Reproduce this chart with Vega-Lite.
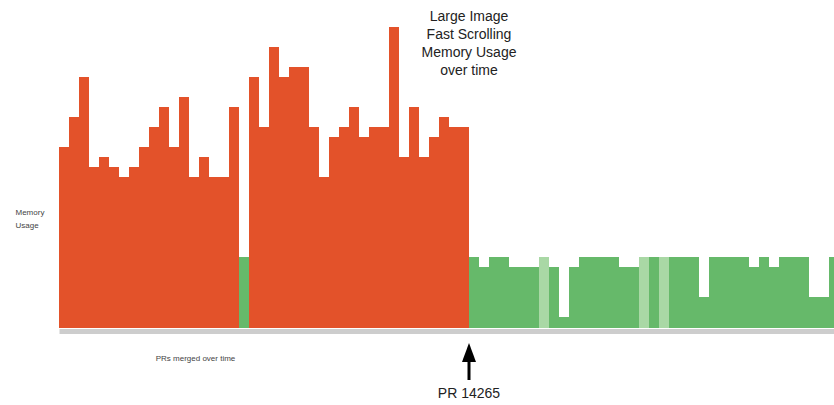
{
  "$schema": "https://vega.github.io/schema/vega-lite/v6.json",
  "width": 775,
  "height": 328,
  "autosize": {"type": "none"},
  "padding": {"left": 59, "top": 0, "right": 0, "bottom": 77},
  "background": "white",
  "config": {"view": {"stroke": null}},
  "layer": [
    {
      "data": {"values": [
        {"pr": 1, "mem": 181, "status": "high"},
        {"pr": 2, "mem": 211, "status": "high"},
        {"pr": 3, "mem": 251, "status": "high"},
        {"pr": 4, "mem": 161, "status": "high"},
        {"pr": 5, "mem": 171, "status": "high"},
        {"pr": 6, "mem": 161, "status": "high"},
        {"pr": 7, "mem": 151, "status": "high"},
        {"pr": 8, "mem": 161, "status": "high"},
        {"pr": 9, "mem": 181, "status": "high"},
        {"pr": 10, "mem": 201, "status": "high"},
        {"pr": 11, "mem": 221, "status": "high"},
        {"pr": 12, "mem": 181, "status": "high"},
        {"pr": 13, "mem": 231, "status": "high"},
        {"pr": 14, "mem": 151, "status": "high"},
        {"pr": 15, "mem": 171, "status": "high"},
        {"pr": 16, "mem": 151, "status": "high"},
        {"pr": 17, "mem": 151, "status": "high"},
        {"pr": 18, "mem": 221, "status": "high"},
        {"pr": 19, "mem": 71, "status": "low"},
        {"pr": 20, "mem": 251, "status": "high"},
        {"pr": 21, "mem": 201, "status": "high"},
        {"pr": 22, "mem": 281, "status": "high"},
        {"pr": 23, "mem": 251, "status": "high"},
        {"pr": 24, "mem": 261, "status": "high"},
        {"pr": 25, "mem": 261, "status": "high"},
        {"pr": 26, "mem": 201, "status": "high"},
        {"pr": 27, "mem": 151, "status": "high"},
        {"pr": 28, "mem": 191, "status": "high"},
        {"pr": 29, "mem": 201, "status": "high"},
        {"pr": 30, "mem": 221, "status": "high"},
        {"pr": 31, "mem": 191, "status": "high"},
        {"pr": 32, "mem": 201, "status": "high"},
        {"pr": 33, "mem": 201, "status": "high"},
        {"pr": 34, "mem": 301, "status": "high"},
        {"pr": 35, "mem": 171, "status": "high"},
        {"pr": 36, "mem": 221, "status": "high"},
        {"pr": 37, "mem": 171, "status": "high"},
        {"pr": 38, "mem": 191, "status": "high"},
        {"pr": 39, "mem": 211, "status": "high"},
        {"pr": 40, "mem": 201, "status": "high"},
        {"pr": 41, "mem": 201, "status": "high"},
        {"pr": 42, "mem": 71, "status": "low"},
        {"pr": 43, "mem": 61, "status": "low"},
        {"pr": 44, "mem": 71, "status": "low"},
        {"pr": 45, "mem": 71, "status": "low"},
        {"pr": 46, "mem": 61, "status": "low"},
        {"pr": 47, "mem": 61, "status": "low"},
        {"pr": 48, "mem": 61, "status": "low"},
        {"pr": 49, "mem": 71, "status": "pending"},
        {"pr": 50, "mem": 61, "status": "low"},
        {"pr": 51, "mem": 11, "status": "low"},
        {"pr": 52, "mem": 61, "status": "low"},
        {"pr": 53, "mem": 71, "status": "low"},
        {"pr": 54, "mem": 71, "status": "low"},
        {"pr": 55, "mem": 71, "status": "low"},
        {"pr": 56, "mem": 71, "status": "low"},
        {"pr": 57, "mem": 61, "status": "low"},
        {"pr": 58, "mem": 61, "status": "low"},
        {"pr": 59, "mem": 71, "status": "pending"},
        {"pr": 60, "mem": 71, "status": "low"},
        {"pr": 61, "mem": 71, "status": "pending"},
        {"pr": 62, "mem": 71, "status": "low"},
        {"pr": 63, "mem": 71, "status": "low"},
        {"pr": 64, "mem": 71, "status": "low"},
        {"pr": 65, "mem": 31, "status": "low"},
        {"pr": 66, "mem": 71, "status": "low"},
        {"pr": 67, "mem": 71, "status": "low"},
        {"pr": 68, "mem": 71, "status": "low"},
        {"pr": 69, "mem": 71, "status": "low"},
        {"pr": 70, "mem": 61, "status": "low"},
        {"pr": 71, "mem": 71, "status": "low"},
        {"pr": 72, "mem": 61, "status": "low"},
        {"pr": 73, "mem": 71, "status": "low"},
        {"pr": 74, "mem": 71, "status": "low"},
        {"pr": 75, "mem": 71, "status": "low"},
        {"pr": 76, "mem": 31, "status": "low"},
        {"pr": 77, "mem": 31, "status": "low"},
        {"pr": 78, "mem": 71, "status": "low"}
      ]},
      "mark": {"type": "bar", "clip": true, "strokeWidth": 0},
      "encoding": {
        "x": {
          "field": "pr",
          "type": "ordinal",
          "scale": {"range": [0, 780], "paddingInner": 0, "paddingOuter": 0},
          "axis": {
            "title": "PRs merged over time",
            "labels": false,
            "ticks": false,
            "grid": false,
            "domainColor": "#cdcdcd",
            "domainWidth": 5,
            "offset": 3,
            "titleFont": "Liberation Sans",
            "titleFontSize": 8,
            "titleFontWeight": "normal",
            "titleColor": "#444444",
            "titleX": 136,
            "titleY": 27,
            "titleAlign": "center",
            "titleBaseline": "middle"
          }
        },
        "y": {
          "field": "mem",
          "type": "quantitative",
          "scale": {"domain": [0, 328], "nice": false, "zero": true},
          "axis": {
            "title": ["Memory", "Usage"],
            "domain": false,
            "ticks": false,
            "labels": false,
            "grid": false,
            "titleAngle": 0,
            "titleAlign": "left",
            "titleBaseline": "top",
            "titleX": -44,
            "titleY": 208,
            "titleFont": "Liberation Sans",
            "titleFontSize": 8,
            "titleFontWeight": "normal",
            "titleColor": "#444444",
            "titleLineHeight": 13
          }
        },
        "color": {
          "field": "status",
          "type": "nominal",
          "scale": {"domain": ["high", "low", "pending"], "range": ["#E3522A", "#66B96A", "#A9D8A5"]},
          "legend": null
        }
      }
    },
    {
      "data": {"values": [{"label": "title"}]},
      "mark": {
        "type": "text",
        "text": ["Large Image", "Fast Scrolling", "Memory Usage", "over time"],
        "font": "Liberation Sans",
        "fontSize": 14,
        "lineHeight": 18,
        "align": "center",
        "baseline": "alphabetic",
        "color": "#222222"
      },
      "encoding": {
        "x": {"datum": 42, "type": "ordinal", "bandPosition": 0},
        "y": {"datum": 307, "type": "quantitative"}
      }
    },
    {
      "data": {"values": [{"label": "arrow"}]},
      "mark": {"type": "rule", "color": "black", "strokeWidth": 3},
      "encoding": {
        "x": {"datum": 42, "type": "ordinal", "bandPosition": 0},
        "y": {"datum": -30, "type": "quantitative"},
        "y2": {"datum": -52}
      }
    },
    {
      "data": {"values": [{"label": "arrowhead"}]},
      "mark": {"type": "point", "shape": "M0,-1L0.737,1L-0.737,1Z", "filled": true, "color": "black", "opacity": 1, "size": 361, "strokeWidth": 0},
      "encoding": {
        "x": {"datum": 42, "type": "ordinal", "bandPosition": 0},
        "y": {"datum": -24.5, "type": "quantitative"}
      }
    },
    {
      "data": {"values": [{"label": "pr"}]},
      "mark": {
        "type": "text",
        "text": "PR 14265",
        "font": "Liberation Sans",
        "fontSize": 14,
        "align": "center",
        "baseline": "alphabetic",
        "color": "#222222"
      },
      "encoding": {
        "x": {"datum": 42, "type": "ordinal", "bandPosition": 0},
        "y": {"datum": -70, "type": "quantitative"}
      }
    }
  ]
}
